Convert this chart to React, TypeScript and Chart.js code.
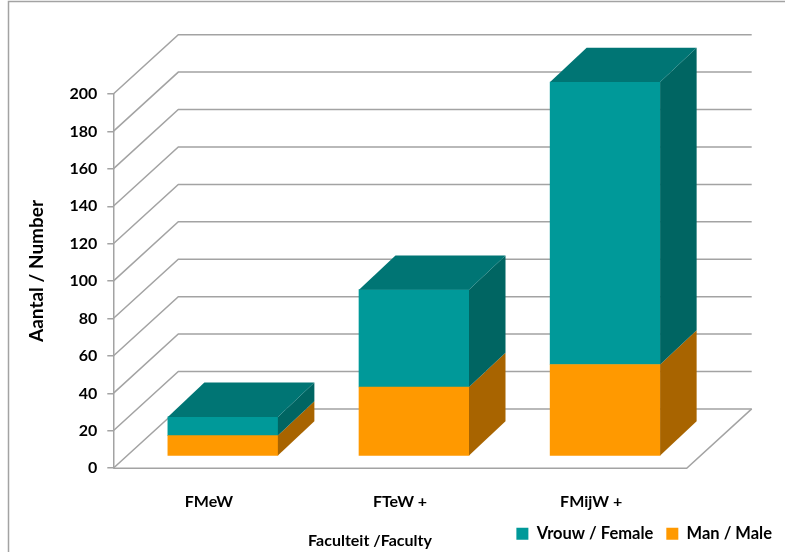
import React, { useEffect, useRef } from 'react';
import { Chart, registerables } from 'chart.js';

Chart.register(...registerables);

// ---- data ----
const categories: string[] = ['FMeW', 'FTeW +', 'FMijW +'];
const femaleValues: number[] = [10, 52, 151];
const maleValues: number[] = [11, 37, 49];
const seriesLabels: string[] = ['Vrouw / Female', 'Man / Male'];
const yMin = 0;
const yMax = 200;
const yStep = 20;
const yTitle = 'Aantal / Number';
const xTitle = 'Faculteit /Faculty';

// ---- style ----
const FONT = "Lato, 'Open Sans', sans-serif";
const TEXT = '#000000';
const GRID = '#a3a3a3';
const DEPTH_DX = 65;
const DEPTH_DY = -59.3;
const BAR_DX = 14;
const BAR_DY = -12;
const BAR_DEPTH_DX = 36.5;
const BAR_DEPTH_DY = -34.3;

const threeD = {
  id: 'threeD',
  beforeDraw(chart: any) {
    const ctx = chart.ctx;
    ctx.save();
    ctx.fillStyle = '#ffffff';
    ctx.fillRect(0, 0, chart.width, chart.height);
    ctx.strokeStyle = GRID;
    ctx.lineWidth = 1.5;
    ctx.strokeRect(8.5, 1.5, chart.width + 40, chart.height + 40);
    ctx.restore();
  },
  beforeDatasetsDraw(chart: any) {
    const { ctx, chartArea, scales } = chart;
    const { left, right } = chartArea;
    const y = scales.y;
    ctx.save();
    ctx.strokeStyle = GRID;
    ctx.lineWidth = 1.5;
    y.ticks.forEach((t: any) => {
      const py = y.getPixelForValue(t.value);
      ctx.beginPath();
      ctx.moveTo(left, py);
      ctx.lineTo(left + DEPTH_DX, py + DEPTH_DY);
      ctx.lineTo(right + DEPTH_DX, py + DEPTH_DY);
      ctx.stroke();
    });
    const y0 = y.getPixelForValue(0);
    ctx.beginPath();
    ctx.moveTo(left, y0);
    ctx.lineTo(right, y0);
    ctx.lineTo(right + DEPTH_DX, y0 + DEPTH_DY);
    ctx.stroke();
    ctx.restore();
    ctx.save();
    ctx.translate(BAR_DX, BAR_DY);
  },
  afterDatasetsDraw(chart: any) {
    const ctx = chart.ctx;
    const n = chart.data.datasets.length;
    chart.data.datasets.forEach((ds: any, di: number) => {
      const meta = chart.getDatasetMeta(di);
      meta.data.forEach((bar: any) => {
        const { x, y, base, width } = bar.getProps(['x', 'y', 'base', 'width'], true);
        const l = x - width / 2;
        const r = x + width / 2;
        ctx.fillStyle = ds.sideColor;
        ctx.beginPath();
        ctx.moveTo(r, y);
        ctx.lineTo(r + BAR_DEPTH_DX, y + BAR_DEPTH_DY);
        ctx.lineTo(r + BAR_DEPTH_DX, base + BAR_DEPTH_DY);
        ctx.lineTo(r, base);
        ctx.closePath();
        ctx.fill();
        if (di === n - 1) {
          ctx.fillStyle = ds.topColor;
          ctx.beginPath();
          ctx.moveTo(l, y);
          ctx.lineTo(l + BAR_DEPTH_DX, y + BAR_DEPTH_DY);
          ctx.lineTo(r + BAR_DEPTH_DX, y + BAR_DEPTH_DY);
          ctx.lineTo(r, y);
          ctx.closePath();
          ctx.fill();
        }
      });
    });
    ctx.restore();
  },
  afterDraw(chart: any) {
    const ctx = chart.ctx;
    ctx.save();
    ctx.fillStyle = TEXT;
    ctx.textAlign = 'center';
    ctx.textBaseline = 'middle';
    ctx.font = `bold 16px ${FONT}`;
    ctx.fillText(xTitle, 370, 541);
    ctx.translate(37, 271);
    ctx.rotate(-Math.PI / 2);
    ctx.font = `bold 19px ${FONT}`;
    ctx.fillText(yTitle, 0, 0);
    ctx.restore();
  },
};

export default function App() {
  const ref = useRef<HTMLCanvasElement | null>(null);
  useEffect(() => {
    if (!ref.current) return;
    const chart = new Chart(ref.current, {
      type: 'bar',
      data: {
        labels: categories,
        datasets: [
          {
            label: seriesLabels[1],
            data: maleValues,
            backgroundColor: '#ff9900',
            sideColor: '#a86400',
            topColor: '#c47800',
            borderWidth: 0,
            barThickness: 110,
          } as any,
          {
            label: seriesLabels[0],
            data: femaleValues,
            backgroundColor: '#009999',
            sideColor: '#006562',
            topColor: '#007574',
            borderWidth: 0,
            barThickness: 110,
          } as any,
        ],
      },
      options: {
        animation: false,
        responsive: false,
        devicePixelRatio: 1,
        layout: { padding: { left: 0, right: 0, top: 94, bottom: 0 } },
        datasets: { bar: { clip: false } as any },
        plugins: {
          tooltip: { enabled: false },
          title: { display: false },
          legend: {
            display: true,
            position: 'bottom',
            align: 'end',
            labels: {
              boxWidth: 12,
              boxHeight: 12,
              padding: 13,
              color: TEXT,
              font: { family: FONT, size: 16.5, weight: 'bold' },
              sort: (a: any, b: any) => b.datasetIndex - a.datasetIndex,
            },
          },
        },
        scales: {
          x: {
            stacked: true,
            offset: true,
            grid: { display: false, drawTicks: false },
            border: { display: false },
            ticks: { color: TEXT, padding: 24, font: { family: FONT, size: 16, weight: 'bold' } },
            afterFit: (s: any) => { s.height = 552 - 40 - 467.7; },
          },
          y: {
            stacked: true,
            min: yMin,
            max: yMax,
            position: 'left',
            grid: { display: true, drawOnChartArea: false, drawTicks: true, tickLength: 6, color: GRID, lineWidth: 1.5 },
            border: { display: true, color: GRID, width: 1.5 },
            ticks: { stepSize: yStep, color: TEXT, padding: 10, font: { family: FONT, size: 16, weight: 'bold' } },
            afterFit: (s: any) => { s.width = 113.3; },
          },
          spacer: {
            type: 'linear',
            position: 'right',
            display: true,
            grid: { display: false, drawTicks: false },
            border: { display: false },
            ticks: { display: false },
            afterFit: (s: any) => { s.width = 98.3; },
          },
        },
      } as any,
      plugins: [threeD],
    });
    return () => chart.destroy();
  }, []);
  return (
    <div style={{ position: 'fixed', left: 0, top: 0, width: 785, height: 552, background: '#fff' }}>
      <canvas ref={ref} width={785} height={552} style={{ width: 785, height: 552, display: 'block' }} />
    </div>
  );
}
